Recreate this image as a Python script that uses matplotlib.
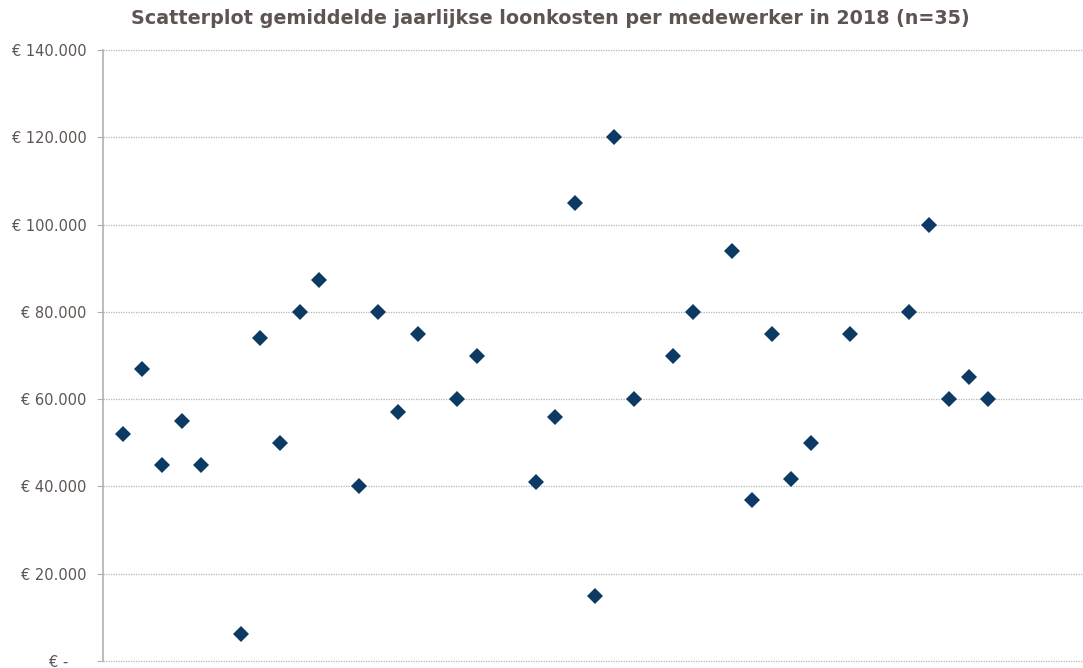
import matplotlib
matplotlib.use("Agg")
import matplotlib.pyplot as plt
from matplotlib.ticker import FuncFormatter

x_pos = [1, 2, 3, 4, 5, 7, 8, 9, 10, 11, 13, 14, 15, 16, 18, 19, 22, 23, 24, 25,
         26, 27, 29, 30, 32, 33, 34, 35, 36, 38, 41, 42, 43, 44, 45]
loonkosten = [52000, 67000, 45000, 55000, 45000, 6200, 74000, 50000, 80000, 87200,
              40000, 80000, 57000, 75000, 60000, 70000, 41000, 56000, 105000, 15000,
              120000, 60000, 70000, 80000, 94000, 37000, 75000, 41800, 50000, 75000,
              80000, 100000, 60000, 65000, 60000]
y_ticks = [0, 20000, 40000, 60000, 80000, 100000, 120000, 140000]
title = "Scatterplot gemiddelde jaarlijkse loonkosten per medewerker in 2018 (n=35)"

text_color = "#5d5552"
fig = plt.figure(figsize=(10.83, 6.68), dpi=100)
ax = fig.add_axes([103/1083, 1 - 661/668, (1082-103)/1083, (661-50)/668])

ax.plot(x_pos, loonkosten, linestyle="none", marker="D", markersize=7.8,
        color="#0c3a65", markeredgewidth=0, clip_on=False, zorder=3)

ax.set_xlim(0, 49.77)
ax.set_ylim(0, 140000)
ax.set_yticks(y_ticks)

def fmt(v, pos):
    if v == 0:
        return "€ -    "
    return "€ " + f"{int(v):,}".replace(",", ".")

ax.yaxis.set_major_formatter(FuncFormatter(fmt))
ax.grid(axis="y", linestyle=(0, (1, 1)), color="#b4b4b4", linewidth=0.9)
for gl in ax.get_ygridlines():
    gl.set_clip_on(False)
ax.set_axisbelow(True)
ax.set_xticks([])
for s in ["top", "right", "bottom"]:
    ax.spines[s].set_visible(False)
ax.spines["left"].set_color("#b0b0b0")
ax.spines["left"].set_linewidth(1.2)
ax.tick_params(axis="y", length=4, color="#b0b0b0", labelsize=10.5,
               labelcolor=text_color, pad=8)

fig.text(550/1083, 1 - 19/668, title, ha="center", va="center", fontsize=13.8,
         fontweight="bold", color="#5e5552")

fig.savefig("out.png", dpi=100)
